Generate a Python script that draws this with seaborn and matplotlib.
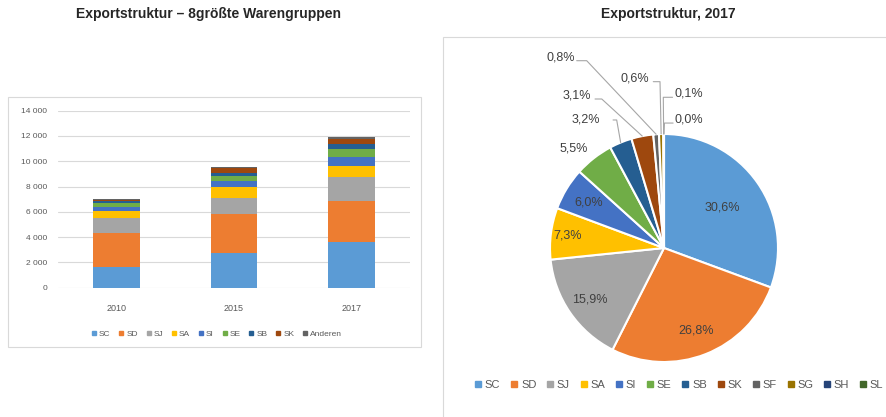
import matplotlib
matplotlib.use("Agg")
import matplotlib.pyplot as plt
from matplotlib.lines import Line2D
from matplotlib.patches import Rectangle
import numpy as np
import pandas as pd
import seaborn as sns

# ---------------- data ----------------
years = ["2010", "2015", "2017"]
bar_groups = ["SC", "SD", "SJ", "SA", "SI", "SE", "SB", "SK", "Anderen"]
sc_vals = [1660, 2720, 3650]
sd_vals = [2690, 3110, 3200]
sj_vals = [1190, 1290, 1900]
sa_vals = [550, 870, 870]
si_vals = [320, 470, 720]
se_vals = [260, 370, 660]
sb_vals = [160, 260, 380]
sk_vals = [100, 400, 370]
other_vals = [60, 80, 180]
y_ticks = [0, 2000, 4000, 6000, 8000, 10000, 12000, 14000]

pie_groups = ["SC", "SD", "SJ", "SA", "SI", "SE", "SB", "SK", "SF", "SG", "SH", "SL"]
pie_shares = [30.6, 26.8, 15.9, 7.3, 6.0, 5.5, 3.2, 3.1, 0.8, 0.6, 0.1, 0.0]

# ---------------- style ----------------
colors = ["#5B9BD5", "#ED7D31", "#A5A5A5", "#FFC000", "#4472C4", "#70AD47",
          "#255E91", "#9E480E", "#636363", "#997300", "#264478", "#43682B"]
text_gray = "#595959"
grid_gray = "#D9D9D9"

sns.set_style("white")
plt.rcParams["font.family"] = ["Liberation Sans", "DejaVu Sans"]

fig = plt.figure(figsize=(8.86, 4.17), dpi=100)
W, H = 886, 417

def fx(px):
    return px / W

def fy(py):
    return 1 - py / H

# panel frames
fig.patches.append(Rectangle((fx(8), fy(347)), fx(421) - fx(8), fy(97) - fy(347),
                             transform=fig.transFigure, fill=False,
                             edgecolor=grid_gray, linewidth=0.8))
fig.patches.append(Rectangle((fx(443), -0.02), 0.6, fy(37) + 0.02,
                             transform=fig.transFigure, fill=False,
                             edgecolor=grid_gray, linewidth=0.8))

# titles
fig.text(fx(209), fy(14), "Exportstruktur – 8größte Warengruppen", ha="center", va="center",
         fontsize=10, fontweight="bold", color="#262626")
fig.text(fx(668), fy(14), "Exportstruktur, 2017", ha="center", va="center",
         fontsize=10, fontweight="bold", color="#262626")

# ---------------- stacked bars ----------------
ax1 = fig.add_axes([fx(58), fy(287.7), fx(410) - fx(58), fy(110.7) - fy(287.7)])
series = [sc_vals, sd_vals, sj_vals, sa_vals, si_vals, se_vals, sb_vals, sk_vals, other_vals]
cum = np.cumsum(np.array(series), axis=0)

# draw from the top layer down so each lower layer covers the one above
for i in range(len(bar_groups) - 1, -1, -1):
    df = pd.DataFrame({"Jahr": years, "Wert": cum[i]})
    sns.barplot(data=df, x="Jahr", y="Wert", color=colors[i], saturation=1,
                width=0.4, ax=ax1, zorder=3, linewidth=0)

ax1.set_xlim(-0.5, 2.5)
ax1.set_ylim(0, 14000)
ax1.set_yticks(y_ticks)
ax1.set_yticklabels([f"{v:,}".replace(",", " ") for v in y_ticks])
ax1.set_xlabel("")
ax1.set_ylabel("")
ax1.grid(axis="y", color=grid_gray, linewidth=0.8, zorder=0)
ax1.set_axisbelow(True)
for s in ax1.spines.values():
    s.set_visible(False)
ax1.tick_params(axis="y", labelsize=6, colors=text_gray, length=0, pad=8)
ax1.tick_params(axis="x", labelsize=6.5, colors=text_gray, length=0, pad=12)

bar_handles = [Line2D([], [], marker="s", linestyle="", color=colors[i], markersize=3.5)
               for i in range(len(bar_groups))]
fig.legend(bar_handles, bar_groups, loc="center", bbox_to_anchor=(fx(216), fy(334)),
           ncol=9, fontsize=6, frameon=False, handletextpad=0.1, columnspacing=0.8,
           labelcolor=text_gray, handlelength=1)

# ---------------- pie ----------------
cx, cy, r = 664, 248, 114
ax2 = fig.add_axes([fx(cx - r), fy(cy + r), fx(2 * r), (2 * r) / H])
wedges, _ = ax2.pie(pie_shares, colors=colors, startangle=90, counterclock=False,
                    wedgeprops=dict(edgecolor="white", linewidth=1.5))
ax2.set_xlim(-1, 1)
ax2.set_ylim(-1, 1)
ax2.set_aspect("equal")
ax2.axis("off")
for w in wedges:
    w.set_clip_on(False)

labels = [f"{v:.1f}%".replace(".", ",") for v in pie_shares]

def mid_point(w, dist):
    ang = np.deg2rad((w.theta1 + w.theta2) / 2)
    return dist * np.cos(ang), dist * np.sin(ang)

# labels inside the big wedges
inner_dist = [0.62, 0.78, 0.79, 0.85, 0.77]
for i, d in enumerate(inner_dist):
    x, y = mid_point(wedges[i], d)
    ax2.text(x, y, labels[i], ha="center", va="center", fontsize=9, color="#404040")

# outside labels with leader lines (pie radius units)
outer = [
    (5, (-0.796, 0.875), "center", None),
    (6, (-0.56, 1.123), "right", [(-0.447, 1.123), (-0.415, 1.123)]),
    (7, (-0.64, 1.342), "right", [(-0.605, 1.307), (-0.546, 1.307)]),
    (8, (-0.785, 1.675), "right", [(-0.766, 1.643), (-0.678, 1.643)]),
    (9, (-0.128, 1.489), "right", [(-0.094, 1.459), (-0.035, 1.459)]),
    (10, (0.09, 1.357), "left", [(0.075, 1.322), (-0.006, 1.322)]),
    (11, (0.095, 1.123), "left", [(0.08, 1.096), (0.004, 1.096)]),
]
for i, (tx, ty), ha, pts in outer:
    ax2.text(tx, ty, labels[i], ha=ha, va="center", fontsize=9, color="#404040",
             clip_on=False)
    if pts is not None:
        ex, ey = mid_point(wedges[i], 1.0)
        xs = [p[0] for p in pts] + [ex]
        ys = [p[1] for p in pts] + [ey]
        ax2.plot(xs, ys, color="#A6A6A6", linewidth=0.8, clip_on=False)

pie_handles = [Line2D([], [], marker="s", linestyle="", color=colors[i], markersize=4)
               for i in range(len(pie_groups))]
fig.legend(pie_handles, pie_groups, loc="center", bbox_to_anchor=(fx(678), fy(385)),
           ncol=12, fontsize=8, frameon=False, handletextpad=0.1, columnspacing=0.75,
           labelcolor=text_gray, handlelength=1)

fig.savefig("out.png", dpi=100)
